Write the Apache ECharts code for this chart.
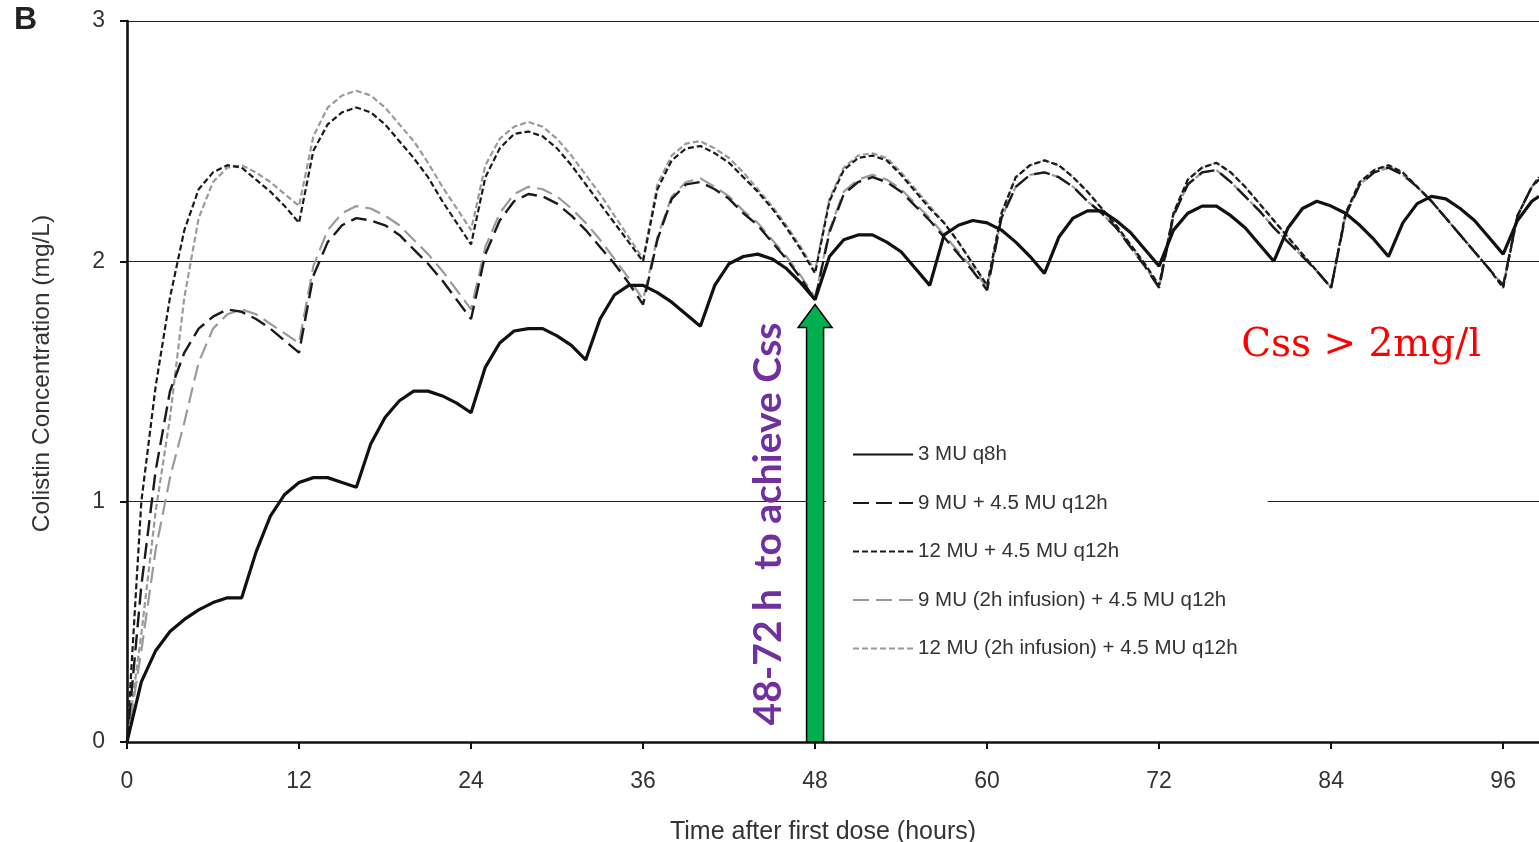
<!DOCTYPE html>
<html>
<head>
<meta charset="utf-8">
<script src="https://cdn.jsdelivr.net/npm/echarts@6/dist/echarts.min.js"></script>
<style>
html,body{margin:0;padding:0;background:#fff;}
#chart{width:1539px;height:842px;}
</style>
</head>
<body>
<div id="chart"></div>
<script>
// time points (hours)
const hours = [0,1,2,3,4,5,6,7,8,9,10,11,12,13,14,15,16,17,18,19,20,21,22,23,24,25,26,27,28,29,30,31,32,33,34,35,36,37,38,39,40,41,42,43,44,45,46,47,48,49,50,51,52,53,54,55,56,57,58,59,60,61,62,63,64,65,66,67,68,69,70,71,72,73,74,75,76,77,78,79,80,81,82,83,84,85,86,87,88,89,90,91,92,93,94,95,96,97,98,98.5];

const seriesNames = [
  '3 MU q8h',
  '9 MU + 4.5 MU q12h',
  '12 MU + 4.5 MU q12h',
  '9 MU (2h infusion) + 4.5 MU q12h',
  '12 MU (2h infusion) + 4.5 MU q12h'
];

// 3 MU q8h
const conc3MU = [0,0.25,0.38,0.46,0.51,0.55,0.58,0.60,0.60,0.79,0.94,1.03,1.08,1.10,1.10,1.08,1.06,1.24,1.35,1.42,1.46,1.46,1.44,1.41,1.37,1.56,1.66,1.71,1.72,1.72,1.69,1.65,1.59,1.76,1.86,1.90,1.90,1.87,1.83,1.78,1.73,1.90,1.99,2.02,2.03,2.01,1.97,1.91,1.84,2.02,2.09,2.11,2.11,2.08,2.04,1.97,1.90,2.11,2.15,2.17,2.16,2.13,2.08,2.02,1.95,2.10,2.18,2.21,2.21,2.17,2.12,2.05,1.98,2.13,2.20,2.23,2.23,2.19,2.14,2.07,2.00,2.14,2.22,2.25,2.23,2.20,2.15,2.09,2.02,2.16,2.24,2.27,2.26,2.22,2.17,2.10,2.03,2.17,2.25,2.27];

// 9 MU + 4.5 MU q12h
const conc9MU = [0,0.65,1.13,1.46,1.62,1.72,1.77,1.80,1.79,1.76,1.72,1.67,1.62,1.94,2.08,2.15,2.18,2.17,2.15,2.11,2.05,1.99,1.92,1.84,1.76,2.03,2.17,2.25,2.28,2.27,2.24,2.19,2.13,2.06,1.99,1.91,1.82,2.09,2.26,2.32,2.33,2.30,2.26,2.20,2.15,2.08,2.01,1.93,1.84,2.12,2.28,2.33,2.35,2.33,2.29,2.23,2.17,2.10,2.03,1.96,1.88,2.18,2.31,2.36,2.37,2.35,2.31,2.25,2.20,2.14,2.06,1.98,1.89,2.19,2.32,2.37,2.38,2.33,2.27,2.21,2.14,2.08,2.02,1.96,1.89,2.19,2.32,2.37,2.39,2.36,2.31,2.25,2.18,2.11,2.04,1.97,1.90,2.19,2.31,2.34];

// 12 MU + 4.5 MU q12h
const conc12MU = [0,1.00,1.48,1.85,2.13,2.30,2.37,2.40,2.39,2.34,2.29,2.23,2.16,2.46,2.57,2.62,2.64,2.62,2.57,2.50,2.43,2.35,2.25,2.16,2.07,2.35,2.47,2.53,2.54,2.52,2.47,2.40,2.32,2.24,2.16,2.08,2.00,2.30,2.42,2.47,2.48,2.45,2.41,2.35,2.29,2.22,2.14,2.05,1.95,2.25,2.38,2.43,2.44,2.42,2.36,2.29,2.22,2.16,2.08,1.99,1.90,2.20,2.35,2.40,2.42,2.40,2.35,2.29,2.22,2.15,2.07,1.99,1.90,2.20,2.34,2.39,2.41,2.37,2.31,2.24,2.17,2.10,2.03,1.96,1.89,2.20,2.33,2.38,2.40,2.37,2.31,2.25,2.18,2.11,2.04,1.97,1.89,2.19,2.31,2.35];

// 9 MU (2h infusion) + 4.5 MU q12h
const conc9MUinf = [0,0.38,0.80,1.10,1.33,1.58,1.72,1.78,1.80,1.78,1.74,1.70,1.66,1.98,2.13,2.20,2.23,2.22,2.19,2.15,2.09,2.03,1.96,1.88,1.80,2.06,2.20,2.28,2.31,2.30,2.27,2.22,2.16,2.09,2.01,1.93,1.84,2.10,2.27,2.33,2.345,2.31,2.27,2.21,2.16,2.09,2.02,1.94,1.85,2.13,2.29,2.34,2.36,2.34,2.30,2.24,2.18,2.11,2.04,1.97,1.89,2.18,2.31,2.36,2.37,2.35,2.31,2.25,2.20,2.14,2.06,1.98,1.89,2.19,2.32,2.37,2.38,2.33,2.27,2.21,2.14,2.08,2.02,1.96,1.89,2.19,2.32,2.37,2.39,2.36,2.31,2.25,2.18,2.11,2.04,1.97,1.90,2.19,2.31,2.34];

// 12 MU (2h infusion) + 4.5 MU q12h
const conc12MUinf = [0,0.45,0.96,1.35,1.85,2.18,2.33,2.39,2.40,2.37,2.33,2.28,2.23,2.52,2.64,2.69,2.71,2.69,2.64,2.57,2.50,2.41,2.31,2.22,2.13,2.40,2.51,2.56,2.58,2.56,2.51,2.44,2.36,2.28,2.19,2.10,2.01,2.32,2.44,2.49,2.50,2.47,2.43,2.37,2.30,2.23,2.15,2.06,1.96,2.26,2.39,2.44,2.45,2.43,2.37,2.30,2.23,2.16,2.08,1.99,1.90,2.20,2.35,2.40,2.42,2.40,2.35,2.29,2.22,2.15,2.07,1.99,1.90,2.20,2.34,2.39,2.41,2.37,2.31,2.24,2.17,2.10,2.03,1.96,1.89,2.20,2.33,2.38,2.40,2.37,2.31,2.25,2.18,2.11,2.04,1.97,1.89,2.19,2.31,2.35];

const xTicks = [0,12,24,36,48,60,72,84,96];
// arrow annotation: [time, from conc, to conc]
const arrowData = [[48, 0, 1.82]];

function pairs(vals){ return hours.map((h,i)=>[h, vals[i]]); }

const chart = echarts.init(document.getElementById('chart'), null, {renderer:'canvas'});
const FONT = 'Liberation Sans, Arial, sans-serif';

const styles = [
  {color:'#111', width:3.2, type:'solid', z:6},
  {color:'#1a1a1a', width:2.4, type:[16,7], z:5},
  {color:'#1a1a1a', width:2.2, type:[6,3], z:5},
  {color:'#9a9a9a', width:2.2, type:[16,7], z:4},
  {color:'#9a9a9a', width:2.2, type:[6,3], z:4}
];
const allVals = [conc3MU, conc9MU, conc12MU, conc9MUinf, conc12MUinf];

const lineSeries = seriesNames.map((n,i)=>({
  name:n, type:'line', data:pairs(allVals[i]), symbol:'none', smooth:false,
  z:styles[i].z,
  lineStyle:{color:styles[i].color, width:styles[i].width, type:styles[i].type},
  itemStyle:{color:styles[i].color}
}));

const arrowSeries = {
  type:'custom', name:'arrow', data:arrowData, z:10, silent:true,
  encode:{x:0, y:[1,2]},
  renderItem:function(params, api){
    const b = api.coord([api.value(0), api.value(1)]);
    const t = api.coord([api.value(0), api.value(2)]);
    const x = b[0], sw = 8.5, hw = 17, hl = 23;
    return {
      type:'polygon',
      shape:{points:[[x-sw,b[1]],[x-sw,t[1]+hl],[x-hw,t[1]+hl],[x,t[1]],[x+hw,t[1]+hl],[x+sw,t[1]+hl],[x+sw,b[1]]]},
      style:{fill:'#00b050', stroke:'#000', lineWidth:1.5}
    };
  }
};

chart.setOption({
  animation:false,
  backgroundColor:'#fff',
  grid:{left:127, right:0, top:21, bottom:100, containLabel:false, outerBoundsMode:'none'},
  xAxis:{
    type:'value', min:0, max:98.5, interval:12,
    name:'Time after first dose (hours)', nameLocation:'middle', nameGap:78,
    nameTextStyle:{fontSize:25, color:'#333', fontFamily:FONT, padding:[0,20,0,0]},
    axisLine:{show:true, onZero:false, lineStyle:{color:'#111', width:2.6}},
    axisTick:{show:true, length:7, customValues:xTicks, lineStyle:{color:'#111', width:2}},
    axisLabel:{fontSize:23, color:'#333', margin:28, fontFamily:FONT, customValues:xTicks},
    splitLine:{show:false}
  },
  yAxis:{
    type:'value', min:0, max:3, interval:1,
    name:'Colistin Concentration (mg/L)', nameLocation:'middle', nameGap:72,
    nameTextStyle:{fontSize:24.5, color:'#333', fontFamily:FONT, padding:[0,0,0,16]},
    axisLine:{show:true, lineStyle:{color:'#111', width:2.6}},
    axisTick:{show:true, length:7, lineStyle:{color:'#111', width:2}},
    axisLabel:{fontSize:23, color:'#333', margin:22, fontFamily:FONT},
    splitLine:{show:true, lineStyle:{color:'#222', width:1}}
  },
  legend:{
    data:seriesNames, orient:'vertical', left:826, top:430,
    padding:[14,30,14,26], itemGap:27.5, itemWidth:60, itemHeight:20,
    backgroundColor:'#fff', selectedMode:false,
    itemStyle:{color:'rgba(0,0,0,0)', borderWidth:0, opacity:0},
    textStyle:{fontSize:20.5, color:'#333', fontFamily:FONT, lineHeight:20}
  },
  graphic:[
    {type:'text', left:14, top:4, style:{text:'B', font:'bold 32px Liberation Sans, Arial, sans-serif', fill:'#222'}},
    {type:'text', x:1361, y:346, z:20, style:{text:'Css > 2mg/l', font:'39px DejaVu Serif, serif', fill:'#ff0000', align:'center', verticalAlign:'middle'}},
    {type:'text', x:768, y:524, rotation:Math.PI/2, z:20, style:{text:'48-72 h  to achieve Css', font:'bold 39px Lato, sans-serif', fill:'#7030a0', align:'center', verticalAlign:'middle'}}
  ],
  series: lineSeries.concat([arrowSeries])
});
</script>
</body>
</html>
